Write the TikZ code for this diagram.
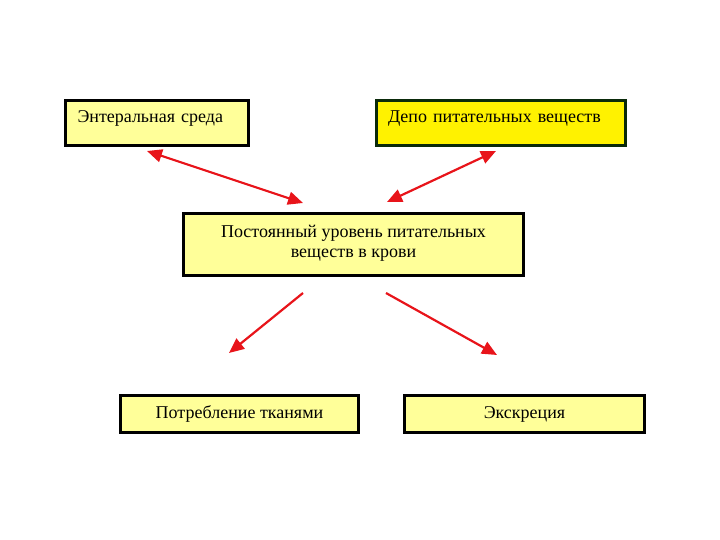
\documentclass[tikz,border=0pt]{standalone}
\usepackage{fontspec}
\setmainfont{Liberation Serif}
\usetikzlibrary{arrows.meta}

\definecolor{paleyellow}{HTML}{FFFF99}
\definecolor{darkgreen}{HTML}{0A2A0A}
\definecolor{arrowred}{HTML}{E8141A}

\begin{document}
\begin{tikzpicture}[
    x=1pt, y=-1pt,
    box/.style={rectangle, draw, line width=3.5pt, fill=paleyellow, inner sep=0pt, font=\fontsize{18}{20}\selectfont},
    arrow/.style={-{Triangle[length=15pt, width=13pt]}, line width=2.2pt, arrowred},
    twoway/.style={{Triangle[length=15pt, width=13pt]}-{Triangle[length=15pt, width=13pt]}, line width=2.2pt, arrowred}
]
    \useasboundingbox (0,0) rectangle (720,540);

    % Top row
    \node[box, minimum width=183pt, minimum height=45pt, text width=159pt, align=left, text depth=12pt] (enteral) at (157,123) {Энтеральная среда};
    \node[box, draw=darkgreen, fill=yellow, minimum width=249pt, minimum height=45pt, text width=226pt, align=left, text depth=12pt] (depot) at (501,123) {Депо питательных веществ};

    % Middle
    \node[box, minimum width=340pt, minimum height=62pt, align=center, text depth=6pt] (blood) at (353.5,244.5) {Постоянный уровень питательных\\веществ в крови};

    % Bottom row
    \node[box, minimum width=238pt, minimum height=37pt] (tissue) at (239.5,414) {Потребление тканями};
    \node[box, minimum width=240pt, minimum height=37pt] (excr) at (524.5,414) {Экскреция};

    % Arrow ends
    \coordinate (e1) at (147,151);
    \coordinate (e2) at (303,203);
    \coordinate (d1) at (496,151);
    \coordinate (d2) at (387,202);
    \coordinate (t1) at (303,293);
    \coordinate (t2) at (229,353);
    \coordinate (x1) at (386,293);
    \coordinate (x2) at (497,355);

    \draw[twoway] (e1) -- (e2);
    \draw[twoway] (d1) -- (d2);
    \draw[arrow] (t1) -- (t2);
    \draw[arrow] (x1) -- (x2);
\end{tikzpicture}
\end{document}
